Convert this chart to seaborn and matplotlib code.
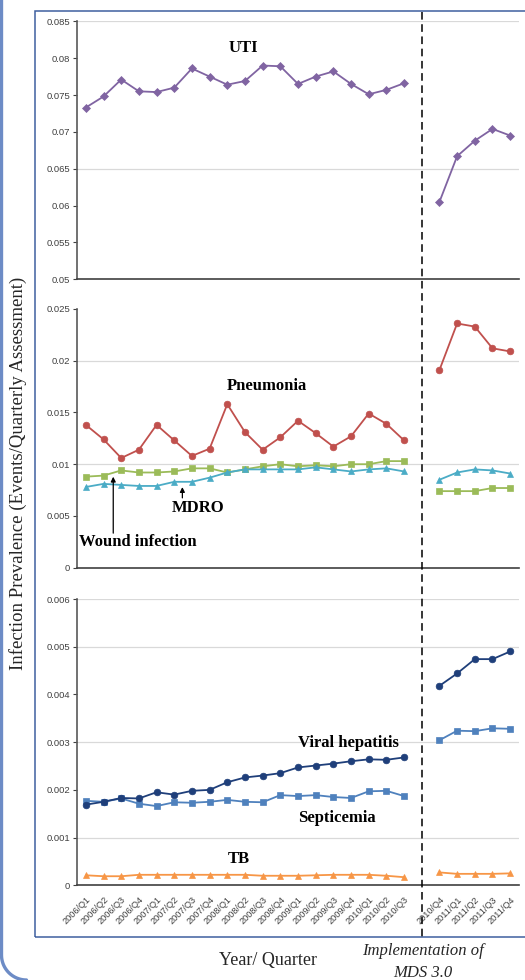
import numpy as np
import pandas as pd
import matplotlib
matplotlib.use("Agg")
import matplotlib.pyplot as plt
from matplotlib.patches import Rectangle
from matplotlib.lines import Line2D
from matplotlib.ticker import FuncFormatter
import seaborn as sns

# quarters 2006/Q1 .. 2011/Q4; one empty slot sits between 2010/Q3 and 2010/Q4
quarters = [f"{y}/Q{q}" for y in range(2006, 2012) for q in range(1, 5)]
n_pre = 19  # quarters before the MDS 3.0 switch

uti = [0.0733, 0.0748, 0.0771, 0.0755, 0.0754, 0.0760, 0.0786, 0.0775, 0.0764, 0.0769,
       0.0790, 0.0789, 0.0765, 0.0775, 0.0782, 0.0765, 0.0751, 0.0757, 0.0766,
       0.0605, 0.0667, 0.0688, 0.0704, 0.0695]
pneumonia = [0.0138, 0.0124, 0.0106, 0.0114, 0.0138, 0.0123, 0.0108, 0.0115, 0.0158, 0.0131,
             0.0114, 0.0126, 0.0142, 0.0130, 0.0117, 0.0127, 0.0149, 0.0139, 0.0123,
             0.0191, 0.0236, 0.0233, 0.0212, 0.0209]
wound = [0.0088, 0.0089, 0.0094, 0.0092, 0.0092, 0.0093, 0.0096, 0.0096, 0.0092, 0.0095,
         0.0098, 0.0100, 0.0098, 0.0099, 0.0098, 0.0100, 0.0100, 0.0103, 0.0103,
         0.0074, 0.0074, 0.0074, 0.0077, 0.0077]
mdro = [0.0078, 0.0081, 0.0080, 0.0079, 0.0079, 0.0083, 0.0083, 0.0087, 0.0092, 0.0095,
        0.0095, 0.0095, 0.0095, 0.0097, 0.0095, 0.0093, 0.0095, 0.0096, 0.0093,
        0.0085, 0.0092, 0.0095, 0.0094, 0.0091]
hepatitis = [0.00169, 0.00175, 0.00183, 0.00182, 0.00195, 0.00190, 0.00198, 0.00200, 0.00216, 0.00226,
             0.00230, 0.00235, 0.00247, 0.00251, 0.00255, 0.00260, 0.00264, 0.00263, 0.00268,
             0.00418, 0.00444, 0.00474, 0.00474, 0.00490]
septicemia = [0.00177, 0.00175, 0.00182, 0.00171, 0.00166, 0.00174, 0.00173, 0.00175, 0.00179, 0.00175,
              0.00174, 0.00189, 0.00187, 0.00189, 0.00185, 0.00183, 0.00197, 0.00198, 0.00187,
              0.00304, 0.00324, 0.00323, 0.00329, 0.00328]
tb = [0.00021, 0.00019, 0.00019, 0.00022, 0.00022, 0.00022, 0.00022, 0.00022, 0.00022, 0.00022,
      0.00020, 0.00020, 0.00020, 0.00021, 0.00022, 0.00022, 0.00022, 0.00020, 0.00017,
      0.00027, 0.00024, 0.00024, 0.00024, 0.00025]

slot_labels = quarters[:n_pre] + [""] + quarters[n_pre:]

sns.set_theme(style="white")
plt.rcParams["font.family"] = ["Liberation Sans", "DejaVu Sans"]
SERIF = ["Liberation Serif", "DejaVu Serif"]
TICK_C = "#404040"

W, H = 525, 980
fig = plt.figure(figsize=(W / 100, H / 100), dpi=100)


def px_rect(left, top, right, bottom):
    return [left / W, 1 - bottom / H, (right - left) / W, (bottom - top) / H]


def frame(values, name):
    pos = [i if i < n_pre else i + 1 for i in range(len(values))]
    seg = ["pre" if i < n_pre else "post" for i in range(len(values))]
    return pd.DataFrame({"pos": pos, "value": values, "segment": seg, "series": name})


def draw(ax, values, name, color, marker, ms=4.8):
    df = frame(values, name)
    sns.lineplot(data=df, x="pos", y="value", units="segment", estimator=None,
                 color=color, marker=marker, markersize=ms, markeredgecolor=color,
                 markeredgewidth=0.5, linewidth=1.3, ax=ax, legend=False)


def style_axis(ax, lo, hi, step, grid, show_x=False):
    ax.set_xlim(-0.5, len(slot_labels) - 0.5)
    ax.set_ylim(lo, hi)
    ax.set_yticks(np.round(np.arange(lo, hi + step / 2, step), 6))
    ax.yaxis.set_major_formatter(FuncFormatter(lambda v, p: f"{v:g}"))
    for g in grid:
        ax.axhline(g, color="#d9d9d9", lw=0.9, zorder=0)
    for s in ["top", "right"]:
        ax.spines[s].set_visible(False)
    ax.spines["left"].set_color("#595959")
    ax.spines["left"].set_linewidth(1.2)
    ax.spines["bottom"].set_color("#404040")
    ax.spines["bottom"].set_linewidth(1.2)
    ax.tick_params(axis="y", direction="out", length=3, width=0.8, color=TICK_C,
                   labelsize=6.8, labelcolor=TICK_C, pad=2, left=True)
    ax.set_xticks(range(len(slot_labels)))
    if show_x:
        ax.set_xticklabels(slot_labels, rotation=45, ha="right", rotation_mode="anchor",
                           fontsize=6.6, color=TICK_C)
        ax.tick_params(axis="x", length=0, pad=7)
    else:
        ax.set_xticklabels([])
        ax.tick_params(axis="x", length=0)
    ax.set_xlabel("")
    ax.set_ylabel("")
    ax.patch.set_alpha(0)


ax1 = fig.add_axes(px_rect(77, 21.3, 519, 279.3))
ax2 = fig.add_axes(px_rect(77, 309, 519, 567.7))
ax3 = fig.add_axes(px_rect(77, 599, 519, 885.3))

draw(ax1, uti, "UTI", "#8064a2", "D", ms=4)
style_axis(ax1, 0.05, 0.085, 0.005, [0.065, 0.085])

draw(ax2, pneumonia, "Pneumonia", "#c0504d", "o")
draw(ax2, wound, "Wound infection", "#9bbb59", "s")
draw(ax2, mdro, "MDRO", "#4bacc6", "^")
style_axis(ax2, 0, 0.025, 0.005, [0.01, 0.02])

draw(ax3, septicemia, "Septicemia", "#4f81bd", "s")
draw(ax3, hepatitis, "Viral hepatitis", "#1f3f7a", "o")
draw(ax3, tb, "TB", "#f79646", "^")
style_axis(ax3, 0, 0.006, 0.001, [0.001, 0.003, 0.005, 0.006], show_x=True)

lab = dict(family=SERIF, fontsize=12, fontweight="bold", color="black",
           ha="center", va="center")
ax1.text(8.9, 0.0814, "UTI", **lab)
ax2.text(10.25, 0.01756, "Pneumonia", **lab)
ax2.text(6.34, 0.00577, "MDRO", **lab)
ax2.text(2.95, 0.00248, "Wound infection", **lab)
arrow = dict(arrowstyle="-|>", color="black", lw=0.9, mutation_scale=7)
ax2.annotate("", xy=(1.55, 0.00906), xytext=(1.55, 0.00307), arrowprops=arrow)
ax2.annotate("", xy=(5.46, 0.00806), xytext=(5.46, 0.00648), arrowprops=arrow)
ax3.text(14.83, 0.00298, "Viral hepatitis", **lab)
ax3.text(14.2, 0.00141, "Septicemia", **lab)
ax3.text(8.66, 0.00055, "TB", **lab)

# slide-style frames: left edge with a rounded bottom-left corner
ang = np.linspace(np.pi, 1.5 * np.pi, 30)
r, cx, cy = 25, 26.5, 955
edge_x = np.concatenate([[1.5], cx + r * np.cos(ang)])
edge_y = np.concatenate([[0], cy - r * np.sin(ang)])
fig.lines.append(Line2D(edge_x / W, 1 - edge_y / H, transform=fig.transFigure,
                        color="#6d8cc6", lw=2.4))
fig.patches.append(Rectangle((34.7 / W, 1 - 936.7 / H), 600 / W, (936.7 - 11) / H,
                             transform=fig.transFigure, fill=False,
                             edgecolor="#3f5f9f", lw=1.1))
fig.lines.append(Line2D([421.7 / W, 421.7 / W], [1 - 12 / H, 1 - 940 / H],
                        transform=fig.transFigure, color="black", lw=1.1,
                        linestyle=(0, (5, 3))))

fig.text(18 / W, 1 - 473 / H, "Infection Prevalence (Events/Quarterly Assessment)",
         rotation=90, ha="center", va="center", family=SERIF, fontsize=13.5)
fig.text(268 / W, 1 - 960 / H, "Year/ Quarter", ha="center", va="center",
         family=SERIF, fontsize=13)
fig.text(423 / W, 1 - 951 / H, "Implementation of", ha="center", va="center",
         family=SERIF, fontsize=12, style="italic")
fig.text(423 / W, 1 - 973 / H, "MDS 3.0", ha="center", va="center",
         family=SERIF, fontsize=12, style="italic")

fig.savefig("out.png", dpi=100)
